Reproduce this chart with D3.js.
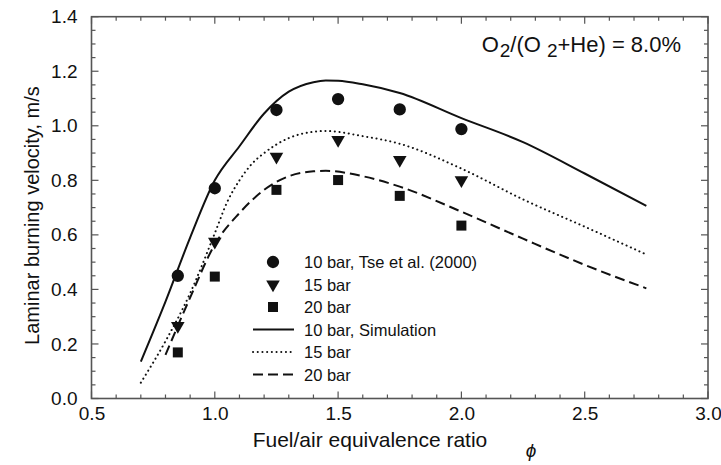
<!DOCTYPE html>
<html>
<head>
<meta charset="utf-8">
<script src="https://cdn.jsdelivr.net/npm/d3@7"></script>
<style>
  html, body { margin: 0; padding: 0; background: #fff; }
  svg text { font-family: "Liberation Sans", Arial, sans-serif; fill: #111; }
</style>
</head>
<body>
<svg id="chart" width="721" height="465"></svg>
<script>
// Measured laminar burning velocities (Tse et al., 2000)
const expPhi = [0.85, 1.0, 1.25, 1.5, 1.75, 2.0];
const exp10bar = [0.45, 0.771, 1.058, 1.098, 1.060, 0.988];
const exp15bar = [0.266, 0.575, 0.887, 0.948, 0.875, 0.801];
const exp20bar = [0.169, 0.447, 0.765, 0.801, 0.743, 0.634];

// Simulated burning velocities
const sim10Phi = [0.70, 0.80, 0.90, 1.00, 1.10, 1.20, 1.30, 1.40, 1.45, 1.50, 1.60, 1.75, 2.00, 2.25, 2.50, 2.75];
const sim10bar = [0.135, 0.355, 0.59, 0.80, 0.925, 1.045, 1.125, 1.160, 1.166, 1.165, 1.152, 1.12, 1.028, 0.94, 0.825, 0.706];
const sim15Phi = [0.70, 0.80, 0.90, 1.00, 1.05, 1.10, 1.15, 1.20, 1.30, 1.40, 1.45, 1.60, 1.75, 2.00, 2.25, 2.50, 2.75];
const sim15bar = [0.058, 0.21, 0.386, 0.606, 0.72, 0.80, 0.86, 0.90, 0.955, 0.978, 0.981, 0.962, 0.934, 0.843, 0.73, 0.63, 0.528];
const sim20Phi = [0.80, 0.90, 1.00, 1.10, 1.20, 1.30, 1.40, 1.45, 1.60, 1.75, 2.00, 2.25, 2.50, 2.75];
const sim20bar = [0.16, 0.37, 0.565, 0.68, 0.765, 0.815, 0.833, 0.835, 0.815, 0.777, 0.685, 0.586, 0.49, 0.404];

const xTicks = [0.5, 1.0, 1.5, 2.0, 2.5, 3.0];
const yTicks = [0.0, 0.2, 0.4, 0.6, 0.8, 1.0, 1.2, 1.4];

const legendLabels = ["10 bar, Tse et al. (2000)", "15 bar", "20 bar", "10 bar, Simulation", "15 bar", "20 bar"];

const svg = d3.select("#chart");
const plotLeft = 91.5, plotRight = 708, plotTop = 16.7, plotBottom = 398.5;

const x = d3.scaleLinear().domain([0.5, 3.0]).range([plotLeft, plotRight]);
const y = d3.scaleLinear().domain([0, 1.4]).range([plotBottom, plotTop]);

const axisColor = "#555";

// frame
svg.append("rect")
  .attr("x", plotLeft).attr("y", plotTop)
  .attr("width", plotRight - plotLeft).attr("height", plotBottom - plotTop)
  .attr("fill", "none").attr("stroke", axisColor).attr("stroke-width", 1.6);

// inward ticks on all four sides
const xMinor = d3.range(0.5, 3.0001, 0.1);
const yMinor = d3.range(0, 1.4001, 0.05);
const isMajor = (v, step) => Math.abs(v / step - Math.round(v / step)) < 1e-6;
const tickG = svg.append("g").attr("stroke", axisColor).attr("stroke-width", 1.2);
xMinor.forEach(v => {
  const len = isMajor(v, 0.5) ? 7 : 4;
  tickG.append("line").attr("x1", x(v)).attr("x2", x(v)).attr("y1", plotBottom).attr("y2", plotBottom - len);
  tickG.append("line").attr("x1", x(v)).attr("x2", x(v)).attr("y1", plotTop).attr("y2", plotTop + len);
});
yMinor.forEach(v => {
  const len = isMajor(v, 0.2) ? 7 : 4;
  tickG.append("line").attr("y1", y(v)).attr("y2", y(v)).attr("x1", plotLeft).attr("x2", plotLeft + len);
  tickG.append("line").attr("y1", y(v)).attr("y2", y(v)).attr("x1", plotRight).attr("x2", plotRight - len);
});

// tick labels via d3 axes
const xAxis = svg.append("g").attr("transform", `translate(0,${plotBottom})`)
  .call(d3.axisBottom(x).tickValues(xTicks).tickFormat(d3.format(".1f")).tickSize(0).tickPadding(8));
const yAxis = svg.append("g").attr("transform", `translate(${plotLeft},0)`)
  .call(d3.axisLeft(y).tickValues(yTicks).tickFormat(d3.format(".1f")).tickSize(0).tickPadding(14));
[xAxis, yAxis].forEach(g => {
  g.select(".domain").remove();
  g.selectAll("text").attr("font-size", 19).attr("fill", "#111")
    .attr("font-family", "Liberation Sans, Arial, sans-serif");
});

// axis titles
svg.append("text").attr("x", 370).attr("y", 447).attr("text-anchor", "middle")
  .attr("font-size", 21).text("Fuel/air equivalence ratio");
svg.append("text").attr("x", 531).attr("y", 457).attr("text-anchor", "middle")
  .attr("font-size", 19).attr("font-style", "italic").attr("font-family", "Liberation Serif, serif").text("ϕ");
svg.append("text").attr("transform", `translate(39,${(plotTop + plotBottom) / 2 + 8}) rotate(-90)`)
  .attr("text-anchor", "middle").attr("font-size", 20).text("Laminar burning velocity, m/s");

// mixture annotation
const ann = svg.append("text").attr("x", 681).attr("y", 52).attr("text-anchor", "end").attr("font-size", 22);
ann.append("tspan").text("O");
ann.append("tspan").attr("font-size", 19).attr("dy", 5).attr("dx", 1).text("2");
ann.append("tspan").attr("dy", -5).text("/(O");
ann.append("tspan").attr("font-size", 19).attr("dy", 5).attr("dx", 6).text("2");
ann.append("tspan").attr("dy", -5).text("+He) = 8.0%");

// simulation curves
const lineStyles = [
  { phi: sim10Phi, v: sim10bar, dash: null, cap: "butt" },
  { phi: sim15Phi, v: sim15bar, dash: "0.1,4.6", cap: "round" },
  { phi: sim20Phi, v: sim20bar, dash: "10,5", cap: "butt" }
];
const line = d3.line().x(d => x(d[0])).y(d => y(d[1])).curve(d3.curveMonotoneX);
lineStyles.forEach(s => {
  svg.append("path")
    .datum(s.phi.map((p, i) => [p, s.v[i]]))
    .attr("d", line)
    .attr("fill", "none").attr("stroke", "#111").attr("stroke-width", 2)
    .attr("stroke-linecap", s.cap)
    .attr("stroke-dasharray", s.dash);
});

// markers
const sym = {
  circle: d3.symbol().type(d3.symbolCircle).size(Math.PI * 38),
  triangle: d3.symbol().type(d3.symbolTriangle).size(80),
  square: d3.symbol().type(d3.symbolSquare).size(100)
};
const markerSets = [
  { v: exp10bar, shape: "circle", rot: 0 },
  { v: exp15bar, shape: "triangle", rot: 180 },
  { v: exp20bar, shape: "square", rot: 0 }
];
markerSets.forEach(m => {
  svg.append("g").selectAll("path").data(expPhi.map((p, i) => [p, m.v[i]])).join("path")
    .attr("d", sym[m.shape])
    .attr("transform", d => `translate(${x(d[0])},${y(d[1])}) rotate(${m.rot})`)
    .attr("fill", "#111");
});

// legend
const legX = 273, legTextX = 304, legY0 = 262, legStep = 22.5;
markerSets.forEach((m, i) => {
  svg.append("path").attr("d", sym[m.shape])
    .attr("transform", `translate(${legX},${legY0 + i * legStep}) rotate(${m.rot})`).attr("fill", "#111");
});
lineStyles.forEach((s, i) => {
  const yy = legY0 + (i + 3) * legStep;
  svg.append("line").attr("x1", 253).attr("x2", 294).attr("y1", yy).attr("y2", yy)
    .attr("stroke", "#111").attr("stroke-width", 2)
    .attr("stroke-linecap", s.cap).attr("stroke-dasharray", s.dash);
});
legendLabels.forEach((t, i) => {
  svg.append("text").attr("x", legTextX).attr("y", legY0 + i * legStep + 6)
    .attr("font-size", 16.5).text(t);
});
</script>
</body>
</html>
